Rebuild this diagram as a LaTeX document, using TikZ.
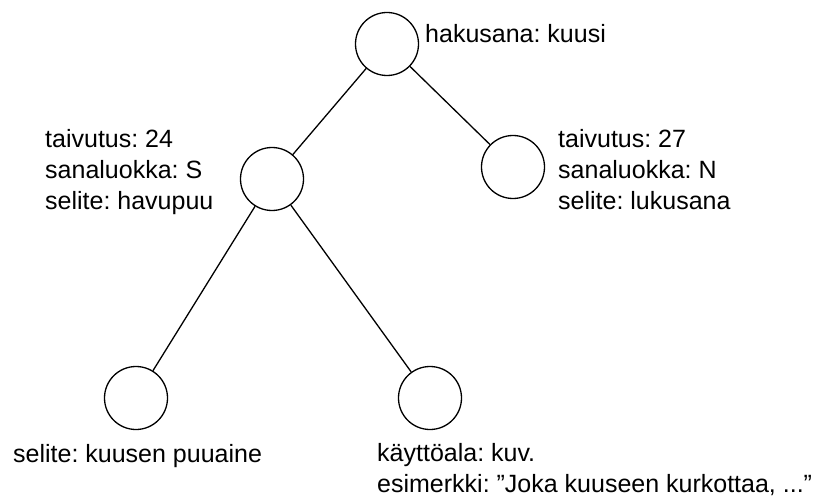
\documentclass[tikz,border=0pt]{standalone}
\usepackage{fontspec}
\setmainfont{Liberation Sans}
\frenchspacing
\begin{document}
\begin{tikzpicture}[x=1pt,y=-1pt,
  vertex/.style={draw=black,line width=1.3pt,circle,inner sep=0pt,minimum size=63pt},
  lbl/.style={anchor=base west,inner sep=0pt,font=\fontsize{25}{31}\selectfont,text=black},
  edge/.style={draw=black,line width=1.3pt}]
\useasboundingbox[fill=white] (0,0) rectangle (819,497);
\node[vertex] (root) at (387,44) {};
\node[vertex] (m1) at (272,179) {};
\node[vertex] (m2) at (513,167) {};
\node[vertex] (b1) at (136,398) {};
\node[vertex] (b2) at (430,398) {};
\draw[edge] (root) -- (m1);
\draw[edge] (root) -- (m2);
\draw[edge] (m1) -- (b1);
\draw[edge] (m1) -- (b2);
\node[lbl] (t0) at (425,43) {hakusana: kuusi};
\node[lbl] (t1a) at (45,148) {taivutus: 24};
\node[lbl] (t1b) at (45,179) {sanaluokka: S};
\node[lbl] (t1c) at (45,210) {selite: havupuu};
\node[lbl] (t2a) at (558,148) {taivutus: 27};
\node[lbl] (t2b) at (558,179) {sanaluokka: N};
\node[lbl] (t2c) at (558,210) {selite: lukusana};
\node[lbl] (t3) at (13,462) {selite: kuusen puuaine};
\node[lbl] (t4a) at (377,461) {käyttöala: kuv.};
\node[lbl] (t4b) at (377,492) {esimerkki: ”Joka kuuseen kurkottaa, ...”};
\end{tikzpicture}
\end{document}
